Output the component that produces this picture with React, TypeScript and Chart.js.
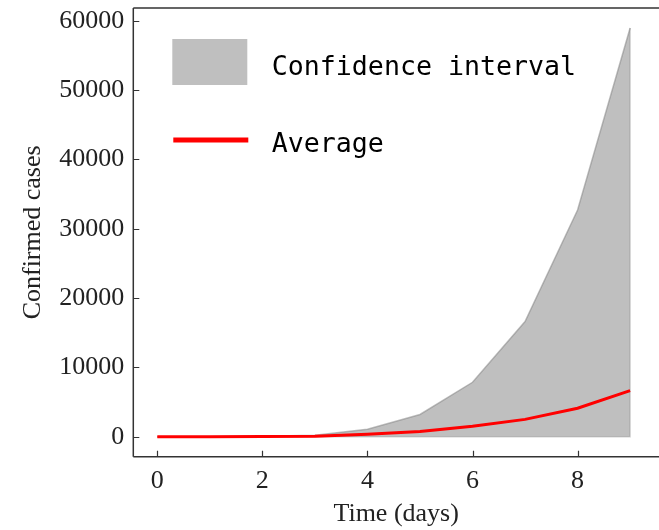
import React, { useEffect, useRef } from "react";
import { Chart, registerables } from "chart.js";

Chart.register(...registerables);

const days = [0, 1, 2, 3, 4, 5, 6, 7, 8, 9];
const upperBound = [0, 5, 50, 220, 1070, 3200, 7850, 16600, 32700, 58950];
const average = [0, 2, 15, 80, 350, 750, 1500, 2500, 4100, 6650];
const xTicks = [0, 2, 4, 6, 8];
const yTicks = [0, 10000, 20000, 30000, 40000, 50000, 60000];
const ciLabel = "Confidence interval";
const avgLabel = "Average";
const xTitle = "Time (days)";
const yTitle = "Confirmed cases";

const SERIF = '"Liberation Serif", "DejaVu Serif", serif';
const MONO = '"DejaVu Sans Mono", monospace';

const framePlugin = {
  id: "frame",
  beforeDatasetsDraw(chart: any) {
    // outline of the confidence band's right and bottom edges
    const { ctx, scales } = chart;
    const xs = scales.x;
    const ys = scales.y;
    const last = days.length - 1;
    const px = xs.getPixelForValue(days[last]);
    ctx.save();
    ctx.strokeStyle = "rgba(128,128,128,0.35)";
    ctx.lineWidth = 1.5;
    ctx.beginPath();
    ctx.moveTo(px, ys.getPixelForValue(upperBound[last]));
    ctx.lineTo(px, ys.getPixelForValue(0));
    ctx.lineTo(xs.getPixelForValue(days[0]), ys.getPixelForValue(0));
    ctx.stroke();
    ctx.restore();
  },
  afterDatasetsDraw(chart: any) {
    const { ctx, chartArea: a, scales } = chart;
    const xs = scales.x;
    const ys = scales.y;
    ctx.save();
    ctx.strokeStyle = "#333";
    ctx.lineWidth = 1.5;
    ctx.beginPath();
    ctx.moveTo(a.left, a.top);
    ctx.lineTo(a.left, a.bottom);
    ctx.moveTo(a.left, a.top);
    ctx.lineTo(a.right + 2, a.top);
    ctx.moveTo(a.left, a.bottom);
    ctx.lineTo(a.right + 2, a.bottom);
    ctx.stroke();
    ctx.lineWidth = 1.2;
    ctx.beginPath();
    for (const v of xTicks) {
      const px = Math.round(xs.getPixelForValue(v)) + 0.5;
      ctx.moveTo(px, a.bottom);
      ctx.lineTo(px, a.bottom - 6);
    }
    for (const v of yTicks) {
      const py = Math.round(ys.getPixelForValue(v)) + 0.5;
      ctx.moveTo(a.left, py);
      ctx.lineTo(a.left + 6, py);
    }
    ctx.stroke();
    ctx.restore();
  },
  afterDraw(chart: any) {
    const { ctx, chartArea: a } = chart;
    const ds = chart.data.datasets;
    ctx.save();
    ctx.fillStyle = "#bfbfbf";
    ctx.fillRect(a.left + 39, a.top + 31, 75, 46);
    ctx.strokeStyle = "#ff0000";
    ctx.lineWidth = 5;
    ctx.beginPath();
    ctx.moveTo(a.left + 40, a.top + 132);
    ctx.lineTo(a.left + 115, a.top + 132);
    ctx.stroke();
    ctx.fillStyle = "#000";
    ctx.font = `26.6px ${MONO}`;
    ctx.textBaseline = "alphabetic";
    ctx.textAlign = "left";
    ctx.fillText(ds[0].label, a.left + 138.5, a.top + 67);
    ctx.fillText(ds[1].label, a.left + 138.5, a.top + 144);
    ctx.restore();
  },
};

export default function App() {
  const ref = useRef<HTMLCanvasElement>(null);
  useEffect(() => {
    if (!ref.current) return;
    const chart = new Chart(ref.current, {
      type: "line",
      data: {
        datasets: [
          {
            label: ciLabel,
            data: days.map((d, i) => ({ x: d, y: upperBound[i] })),
            backgroundColor: "rgba(128,128,128,0.5)",
            borderColor: "rgba(128,128,128,0.5)",
            borderWidth: 1.5,
            fill: "origin",
            pointRadius: 0,
            tension: 0,
            order: 2,
          },
          {
            label: avgLabel,
            data: days.map((d, i) => ({ x: d, y: average[i] })),
            borderColor: "#ff0000",
            borderWidth: 3,
            fill: false,
            pointRadius: 0,
            tension: 0,
            order: 1,
          },
        ],
      },
      options: {
        responsive: false,
        animation: false,
        devicePixelRatio: 1,
        layout: { padding: { left: 0, top: 8, right: 0, bottom: 0 } },
        plugins: { legend: { display: false }, tooltip: { enabled: false } },
        scales: {
          x: {
            type: "linear",
            min: -0.457,
            max: 9.55,
            afterBuildTicks: (s: any) => {
              s.ticks = xTicks.map((v) => ({ value: v }));
            },
            afterFit: (s: any) => {
              s.height = 73.3;
              s.paddingLeft = 0;
              s.paddingRight = 0;
            },
            grid: { display: false, drawTicks: false },
            border: { display: false },
            ticks: {
              padding: 9,
              color: "#222",
              font: { family: SERIF, size: 26, lineHeight: 1.2 },
              callback: (v: any) => String(v),
              maxRotation: 0,
            },
            title: {
              display: true,
              text: xTitle,
              color: "#222",
              font: { family: SERIF, size: 26, lineHeight: 1.2 },
              padding: { top: 0, bottom: 0 },
            },
          },
          y: {
            type: "linear",
            min: -2885,
            max: 61833,
            afterBuildTicks: (s: any) => {
              s.ticks = yTicks.map((v) => ({ value: v }));
            },
            afterFit: (s: any) => {
              s.width = 133.3;
              s.paddingTop = 0;
              s.paddingBottom = 0;
            },
            grid: { display: false, drawTicks: false },
            border: { display: false },
            ticks: {
              padding: 9,
              color: "#222",
              font: { family: SERIF, size: 26, lineHeight: 1.2 },
              callback: (v: any) => String(v),
            },
            title: {
              display: true,
              text: yTitle,
              color: "#222",
              font: { family: SERIF, size: 26, lineHeight: 1.2 },
              padding: { top: 18, bottom: 0 },
            },
          },
        },
      },
      plugins: [framePlugin],
    });
    return () => chart.destroy();
  }, []);
  return (
    <div style={{ position: "fixed", left: 0, top: 0, width: 659, height: 530, background: "#fff" }}>
      <canvas ref={ref} width={659} height={530} style={{ width: 659, height: 530 }} />
    </div>
  );
}
